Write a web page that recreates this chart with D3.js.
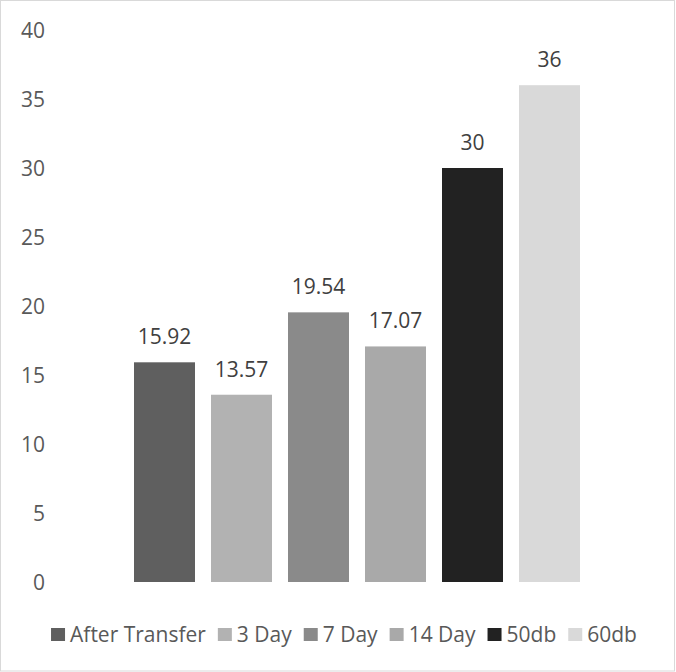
<!DOCTYPE html>
<html>
<head>
<meta charset="utf-8">
<script src="https://cdn.jsdelivr.net/npm/d3@7/dist/d3.min.js"></script>
<style>
  html, body { margin: 0; padding: 0; background: #ffffff; }
  svg { display: block; }
  text { font-family: "Open Sans", "Noto Sans", sans-serif; }
</style>
</head>
<body>
<script>
const categories = ["After Transfer", "3 Day", "7 Day", "14 Day", "50db", "60db"];
const values = [15.92, 13.57, 19.54, 17.07, 30, 36];
const labels = ["15.92", "13.57", "19.54", "17.07", "30", "36"];
const colors = ["#5f5f5f", "#b2b2b2", "#8a8a8a", "#a9a9a9", "#222222", "#d9d9d9"];
const yTicks = [0, 5, 10, 15, 20, 25, 30, 35, 40];

const W = 676, H = 672;
const svg = d3.select("body").append("svg").attr("width", W).attr("height", H);

svg.append("rect")
  .attr("x", 0.5).attr("y", 0.5)
  .attr("width", W - 2).attr("height", H - 1.5)
  .attr("fill", "#ffffff").attr("stroke", "#d9d9d9").attr("stroke-width", 1);

const x = d3.scaleBand().domain(categories).range([126, 588])
  .paddingInner(16 / 77).paddingOuter(8 / 77);
const y = d3.scaleLinear().domain([0, 40]).range([582, 30]);

// y axis labels
const yAxis = d3.axisLeft(y).tickValues(yTicks).tickSize(0).tickPadding(0);
const gy = svg.append("g").attr("transform", "translate(45,0)").call(yAxis);
gy.select(".domain").remove();
gy.selectAll("text")
  .attr("fill", "#595959")
  .style("font-family", '"Open Sans", sans-serif')
  .style("font-size", "21px")
  .attr("dy", "0.35em");

// bars
svg.append("g").selectAll("rect").data(categories).join("rect")
  .attr("x", d => x(d))
  .attr("y", (d, i) => y(values[i]))
  .attr("width", x.bandwidth())
  .attr("height", (d, i) => y(0) - y(values[i]))
  .attr("fill", (d, i) => colors[i]);

// data labels
svg.append("g").selectAll("text").data(categories).join("text")
  .attr("x", d => x(d) + x.bandwidth() / 2)
  .attr("y", (d, i) => y(values[i]) - 18)
  .attr("text-anchor", "middle")
  .attr("fill", "#404040")
  .style("font-size", "21px")
  .text((d, i) => labels[i]);

// legend
const lg = svg.append("g");
const items = lg.selectAll("g").data(categories).join("g");
items.append("rect")
  .attr("width", 14).attr("height", 13)
  .attr("y", 628)
  .attr("fill", (d, i) => colors[i]);
items.append("text")
  .attr("x", 19).attr("y", 641.5)
  .attr("fill", "#595959")
  .style("font-size", "21px")
  .text(d => d);
let cx = 0;
const offs = [];
items.each(function () {
  offs.push(cx);
  const w = d3.select(this).select("text").node().getComputedTextLength();
  cx += 19 + w + 12;
});
const total = cx - 12;
const start = 344 - total / 2;
items.attr("transform", (d, i) => `translate(${start + offs[i]},0)`);
</script>
</body>
</html>
